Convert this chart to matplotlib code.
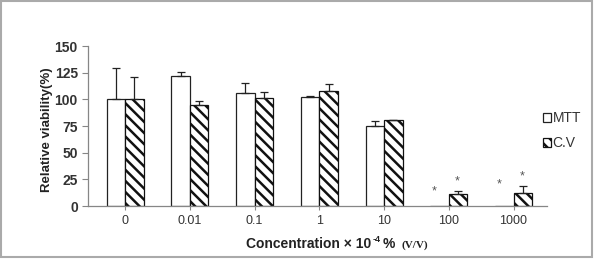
import numpy as np
import matplotlib
matplotlib.use('Agg')
from matplotlib import pyplot as plt
from matplotlib.patches import Rectangle

plt.rcParams['font.family'] = ['Liberation Sans', 'DejaVu Sans']
plt.rcParams['hatch.linewidth'] = 1.8

# data
concentrations = ['0', '0.01', '0.1', '1', '10', '100', '1000']
mtt = [100, 122, 106, 102, 75, 0, 0]
mtt_err = [29, 4, 9, 1.5, 5, 0, 0]
cv = [100, 95, 101, 108, 80.5, 11.5, 12.5]
cv_err = [21, 3.5, 6, 6, 0, 2.5, 6]
# significance stars: (category index, series, height)
star_cat = [5, 5, 6, 6]
star_series = ['MTT', 'C.V', 'MTT', 'C.V']
star_y = [14, 23, 20.5, 28]

fig = plt.figure(figsize=(6, 2.68), dpi=100)
ax = fig.add_axes([0.147, 0.2313, 0.765, 0.597])

x = np.arange(len(concentrations))
w = 0.285
grey = '#868686'
dark = '#222222'

ax.bar(x - w / 2, mtt, w, color='white', edgecolor=dark, linewidth=0.9, label='MTT')
ax.bar(x + w / 2, cv, w, color='white', edgecolor='#111111', linewidth=0.9,
       hatch='\\\\\\', label='C.V')

m = np.array(mtt) > 0
ax.errorbar((x - w / 2)[m], np.array(mtt)[m], yerr=[np.zeros(m.sum()), np.array(mtt_err)[m]],
            fmt='none', ecolor=dark, elinewidth=0.9, capsize=3, capthick=0.9)
ax.errorbar(x + w / 2, cv, yerr=[np.zeros(len(cv)), cv_err],
            fmt='none', ecolor=dark, elinewidth=0.9, capsize=3, capthick=0.9)

for c, s, y in zip(star_cat, star_series, star_y):
    xx = c - w / 2 - 0.08 if s == 'MTT' else c + w / 2 - 0.01
    ax.text(xx, y, '*', ha='center', va='center', fontsize=9, color='#555555')

ax.set_xlim(-0.572, 6.52)
ax.set_ylim(0, 150)
ax.set_yticks([0, 25, 50, 75, 100, 125, 150])
ax.set_xticks(x)
ax.set_xticklabels(concentrations)
ax.tick_params(axis='y', labelsize=10, colors=grey, labelcolor='#333333', length=4, width=0.8)
ax.tick_params(axis='x', labelsize=9, colors=grey, labelcolor='#333333', length=3, width=0.8)
for lab in ax.get_yticklabels():
    lab.set_fontweight('bold')
for sp in ['top', 'right']:
    ax.spines[sp].set_visible(False)
for sp in ['left', 'bottom']:
    ax.spines[sp].set_color(grey)
    ax.spines[sp].set_linewidth(0.9)

fig.text(0.078, 0.515, 'Relative viability(%)', rotation=90, ha='center', va='center',
         fontsize=9.5, fontweight='bold', color=dark)

# x label built from pieces on one baseline
base = 0.075
fig.canvas.draw()
r = fig.canvas.get_renderer()
inv = fig.transFigure.inverted()
t1 = fig.text(0.41, base, 'Concentration \u00d7 10', ha='left', va='baseline',
              fontsize=10, fontweight='bold', color=dark)
x1 = inv.transform(t1.get_window_extent(r))[1, 0]
t2 = fig.text(x1 + 0.002, base + 0.022, '-4', ha='left', va='baseline',
              fontsize=6.5, fontweight='bold', color=dark)
x2 = inv.transform(t2.get_window_extent(r))[1, 0]
t3 = fig.text(x2 + 0.003, base, '%', ha='left', va='baseline',
              fontsize=10, fontweight='bold', color=dark)
x3 = inv.transform(t3.get_window_extent(r))[1, 0]
fig.text(x3 + 0.012, base, '(V/V)', ha='left', va='baseline',
         fontsize=8, fontweight='bold', color=dark, family='Liberation Serif')

ax.legend(loc='center left', bbox_to_anchor=(0.975, 0.47), frameon=False, fontsize=10,
          handlelength=0.6, handleheight=0.6, handletextpad=0.1, labelspacing=0.8,
          borderpad=0, labelcolor='#333333')

fig.patches.append(Rectangle((0.002, 0.041), 0.985, 0.955, transform=fig.transFigure,
                             fill=False, edgecolor='#aaaaaa', linewidth=1.5))

fig.savefig('out.png', dpi=100)
